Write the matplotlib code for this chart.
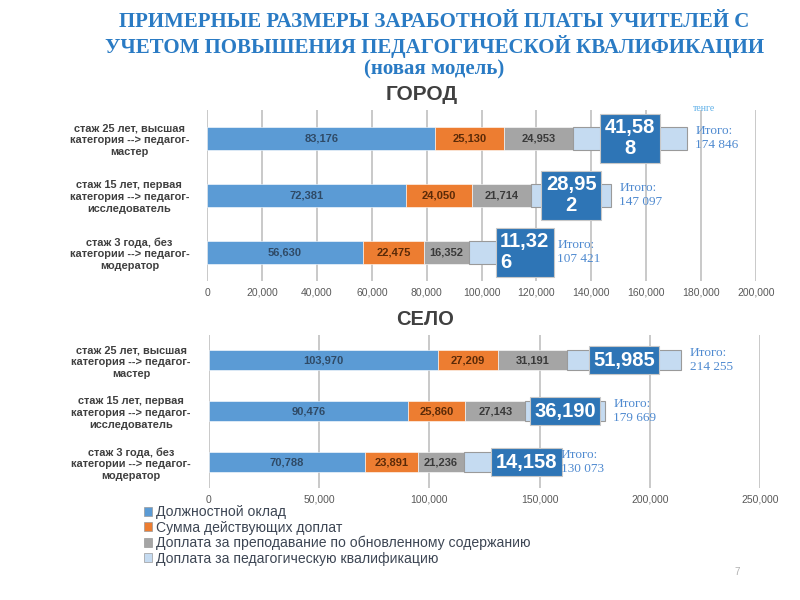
import textwrap
import matplotlib.pyplot as plt

plt.rcParams['font.family'] = ['Liberation Sans', 'DejaVu Sans']

categories = [
    "стаж 25 лет, высшая\nкатегория --> педагог-\nмастер",
    "стаж 15 лет, первая\nкатегория --> педагог-\nисследователь",
    "стаж 3 года, без\nкатегории --> педагог-\nмодератор",
]
legend_labels = [
    "Должностной оклад",
    "Сумма действующих доплат",
    "Доплата за преподавание по обновленному содержанию",
    "Доплата за педагогическую квалификацию",
]

# город
city_oklad = [83176, 72381, 56630]
city_doplaty = [25130, 24050, 22475]
city_obnov = [24953, 21714, 16352]
city_kval = [41588, 28952, 11326]
city_total = ["174 846", "147 097", "107 421"]

# село
village_oklad = [103970, 90476, 70788]
village_doplaty = [27209, 25860, 23891]
village_obnov = [31191, 27143, 21236]
village_kval = [51985, 36190, 14158]
village_total = ["214 255", "179 669", "130 073"]

colors = ['#5b9bd5', '#ed7d31', '#a5a5a5', '#c5dbf1']
label_colors = ['#2f4a66', '#5a2a08', '#3a3a3a']
title_color = '#2a7bc4'
note_color = '#4f8ad0'

fig = plt.figure(figsize=(8, 6), dpi=100)


def draw_panel(ax, series, totals, xmax, xstep, wrap, itogo_gap, bar_h):
    n = len(categories)
    ypos = list(range(n))
    left = [0] * n
    for i, vals in enumerate(series):
        if i == 3:
            ax.barh(ypos, vals, left=left, height=bar_h, color=colors[i],
                    edgecolor='#9a9a9a', linewidth=0.8, zorder=3)
        else:
            ax.barh(ypos, vals, left=left, height=bar_h, color=colors[i],
                    edgecolor='white', linewidth=0.4, zorder=3)
        for j, v in enumerate(vals):
            s = f"{v:,}"
            if i < 3:
                ax.text(left[j] + v / 2, j, s, ha='center', va='center',
                        fontsize=8, fontweight='bold', color=label_colors[i], zorder=4)
            else:
                if wrap:
                    s = '\n'.join(textwrap.wrap(s, 5))
                small = v < 20000
                x = left[j] + v if small else left[j] + v / 2
                ax.text(x, j, s, ha='left' if small else 'center', va='center',
                        fontsize=14.5, fontweight='bold', color='white',
                        linespacing=1.15, zorder=5,
                        bbox=dict(boxstyle='square,pad=0.22', fc='#2e75b6',
                                  ec='#c8c8c8', lw=0.8))
        left = [a + b for a, b in zip(left, vals)]
    for j, t in enumerate(totals):
        gap = itogo_gap if series[3][j] < 20000 else 6
        ax.annotate("Итого:\n" + t, xy=(left[j], j), xytext=(gap, 0),
                    textcoords='offset points', ha='left', va='center',
                    fontsize=9.5, color=note_color, family='Liberation Serif',
                    linespacing=1.25, zorder=6)
    ax.set_xlim(0, xmax)
    ax.set_ylim(n - 0.5, -0.5)
    ax.set_xticks(range(0, xmax + 1, xstep))
    ax.set_xticklabels([f"{v:,}" for v in range(0, xmax + 1, xstep)])
    ax.set_yticks(ypos)
    ax.set_yticklabels(categories, ha='center', multialignment='center',
                       fontsize=7.9, fontweight='bold', color='#404040',
                       linespacing=1.2)
    ax.tick_params(axis='y', length=0, pad=56)
    ax.tick_params(axis='x', length=0, labelsize=7.5, labelcolor='#595959', pad=5)
    ax.grid(axis='x', color='#c0c0c0', lw=1.2, zorder=0)
    for sp in ax.spines.values():
        sp.set_visible(False)
    ax.set_axisbelow(True)


ax1 = fig.add_axes([0.259, 0.532, 0.686, 0.285])
draw_panel(ax1, [city_oklad, city_doplaty, city_obnov, city_kval], city_total,
           200000, 20000, True, 41, 0.4)

ax2 = fig.add_axes([0.261, 0.187, 0.689, 0.255])
draw_panel(ax2, [village_oklad, village_doplaty, village_obnov, village_kval],
           village_total, 250000, 50000, False, 47, 0.39)

fig.text(0.543, 0.98, "ПРИМЕРНЫЕ РАЗМЕРЫ ЗАРАБОТНОЙ ПЛАТЫ УЧИТЕЛЕЙ С\n"
         "УЧЕТОМ ПОВЫШЕНИЯ ПЕДАГОГИЧЕСКОЙ КВАЛИФИКАЦИИ\n(новая модель)",
         ha='center', va='top', fontsize=15, fontweight='bold',
         color=title_color, family='Liberation Serif', linespacing=1.15)
fig.text(0.527, 0.843, "ГОРОД", ha='center', va='center', fontsize=15,
         fontweight='bold', color='#404040')
fig.text(0.531, 0.467, "СЕЛО", ha='center', va='center', fontsize=14.5,
         fontweight='bold', color='#404040')
fig.text(0.88, 0.82, "тенге", ha='center', va='center', fontsize=7,
         color='#5fb0e8', family='Liberation Serif')
fig.text(0.921, 0.046, "7", ha='center', va='center', fontsize=7, color='#b0b0b0')

handles = [plt.Rectangle((0, 0), 1, 1, fc=c, ec='#9a9a9a', lw=0.5) for c in colors]
leg = fig.legend(handles, legend_labels, loc='upper left',
                 bbox_to_anchor=(0.18, 0.158), frameon=False, fontsize=10.1,
                 handlelength=0.6, handleheight=0.6, handletextpad=0.25,
                 labelspacing=0.1, borderaxespad=0, borderpad=0)
for t in leg.get_texts():
    t.set_color('#3d4654')

fig.savefig('out.png', dpi=100)
